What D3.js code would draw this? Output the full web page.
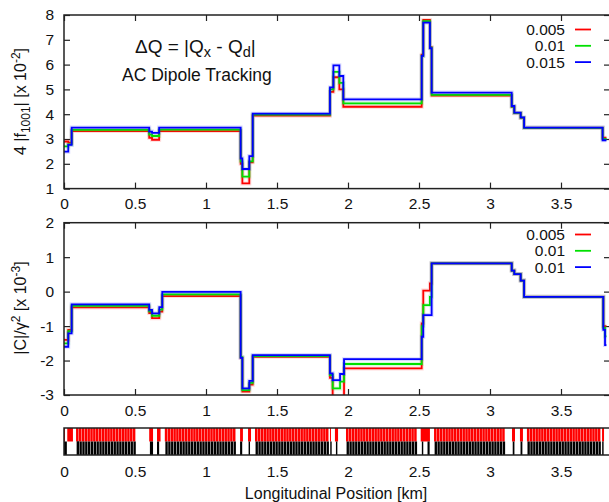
<!DOCTYPE html>
<html>
<head>
<meta charset="utf-8">
<script src="https://cdn.jsdelivr.net/npm/d3@7"></script>
<style>
  body { margin: 0; background: #fff; }
  svg { font-family: "Liberation Sans", Arial, Helvetica, sans-serif; }
</style>
</head>
<body>
<svg id="chart" width="609" height="502"></svg>
<script>
// legend labels and colours (red drawn first, blue on top)
const upperLabels = ["0.005", "0.01", "0.015"]
const lowerLabels = ["0.005", "0.01", "0.01"]
const seriesColors = ["#ff0000", "#00e000", "#0000ff"]

// upper panel: 4|f1001| [x 10^-2], step values starting at each position (km)
const upperPos = [0, 0.03, 0.054, 0.60, 0.62, 0.67, 1.244, 1.256, 1.305, 1.329, 1.873, 1.897,
  1.939, 1.967, 2.519, 2.53, 2.577, 2.589, 3.153, 3.171, 3.216, 3.24, 3.793, 3.82]
const upperRed = [2.90, 2.85, 3.32, 3.05, 2.97, 3.32, 2.00, 1.21, 2.06, 3.94, 4.90, 5.49,
  5.00, 4.30, 6.40, 7.80, 6.70, 4.75, 4.30, 4.04, 3.85, 3.45, 3.05, 3.05]
const upperGreen = [2.70, 2.78, 3.37, 3.18, 3.12, 3.38, 2.10, 1.48, 2.10, 3.98, 5.00, 5.71,
  5.26, 4.44, 6.35, 7.75, 6.68, 4.78, 4.31, 4.05, 3.86, 3.45, 3.00, 3.00]
const upperBlue = [2.49, 2.76, 3.46, 3.30, 3.25, 3.46, 2.22, 1.79, 2.31, 4.02, 5.08, 5.97,
  5.54, 4.60, 6.35, 7.69, 6.66, 4.87, 4.33, 4.06, 3.87, 3.46, 2.95, 2.95]

// lower panel: |C|/gamma^2 [x 10^-3]
const lowerPos = [0, 0.03, 0.054, 0.60, 0.62, 0.671, 0.692, 1.244, 1.256, 1.305, 1.329, 1.873,
  1.892, 1.944, 1.972, 2.519, 2.53, 2.577, 2.589, 3.153, 3.171, 3.216, 3.24, 3.798, 3.81, 3.82]
const lowerRed = [-1.40, -1.11, -0.46, -0.62, -0.77, -0.58, -0.13, -1.92, -2.90, -2.70, -1.89, -2.50,
  -3.20, -3.20, -2.23, -0.92, 0.03, 0.24, 0.82, 0.61, 0.51, 0.32, -0.15, -1.00, -1.00, -1.00]
const lowerGreen = [-1.50, -1.15, -0.41, -0.57, -0.70, -0.52, -0.08, -1.90, -2.86, -2.65, -1.87, -2.42,
  -2.81, -2.61, -2.10, -1.00, -0.39, -0.15, 0.82, 0.61, 0.51, 0.32, -0.15, -1.05, -1.30, -1.30]
const lowerBlue = [-1.60, -1.21, -0.37, -0.53, -0.63, -0.45, -0.01, -1.92, -2.81, -2.59, -1.84, -2.37,
  -2.57, -2.39, -1.96, -1.31, -0.68, -0.68, 0.82, 0.61, 0.51, 0.32, -0.15, -1.11, -1.55, -1.55]

// tick values
const xTicks = [0, 0.5, 1, 1.5, 2, 2.5, 3, 3.5]
const upperYTicks = [1, 2, 3, 4, 5, 6, 7, 8]
const lowerYTicks = [-3, -2, -1, 0, 1, 2]

// lattice strip: arc regions (dense magnets, km), cell length, and isolated IR magnets
const arcRegions = [[0.085, 0.50], [0.71, 1.22], [1.345, 1.873], [1.986, 2.486], [2.606, 3.107], [3.26, 3.775]]
const cellLength = 0.02
const irDipoles = [[0, 0.007], [0.023, 0.063], [0.60, 0.627], [0.655, 0.68], [1.24, 1.26], [1.296, 1.317],
  [1.873, 1.88], [1.908, 1.93], [2.512, 2.577], [3.155, 3.176], [3.211, 3.232], [3.789, 3.803]]
const irQuads = [[0, 0.02], [0.092, 0.106], [0.605, 0.627], [0.655, 0.67], [1.24, 1.255], [1.30, 1.31],
  [1.875, 1.885], [1.915, 1.925], [2.52, 2.53], [2.56, 2.575], [3.16, 3.172], [3.215, 3.228], [3.79, 3.80]]

const svg = d3.select("#chart")
const left = 64, right = 610
const x = d3.scaleLinear().domain([0, (right - left) / 142]).range([left, right])
const tickFont = 15.5

function panel(top, bottom, yDomain, yTicks, pos, series, labels, legendY, id) {
  const y = d3.scaleLinear().domain(yDomain).range([bottom, top])

  svg.append("clipPath").attr("id", id)
    .append("rect").attr("x", left).attr("y", top).attr("width", right - left).attr("height", bottom - top)

  const g = svg.append("g")

  // ticks pointing inward on all four sides
  g.append("g").attr("transform", `translate(0,${bottom})`)
    .call(d3.axisBottom(x).tickValues(xTicks).tickSize(-6).tickPadding(9.5).tickFormat(d => String(d)))
  g.append("g").attr("transform", `translate(0,${top})`)
    .call(d3.axisTop(x).tickValues(xTicks).tickSize(-6).tickFormat(""))
  g.append("g").attr("transform", `translate(${left},0)`)
    .call(d3.axisLeft(y).tickValues(yTicks).tickSize(-6).tickPadding(10).tickFormat(d => String(d)))
  g.append("g").attr("transform", `translate(${right},0)`)
    .call(d3.axisRight(y).tickValues(yTicks).tickSize(-6).tickFormat(""))
  g.selectAll(".domain").remove()
  g.selectAll(".tick line").attr("stroke", "#222").attr("stroke-width", 1.2)
  g.selectAll(".tick text").attr("font-size", tickFont).attr("fill", "#111")

  const line = d3.line()
    .x(d => x(d[0]))
    .y(d => y(d[1]))
    .curve(d3.curveStepAfter)

  const lines = svg.append("g").attr("clip-path", `url(#${id})`)
  series.forEach((vals, i) => {
    const pts = pos.map((p, j) => [p, vals[j]])
    lines.append("path").attr("d", line(pts))
      .attr("fill", "none").attr("stroke", seriesColors[i])
      .attr("stroke-width", 4).attr("stroke-opacity", 0.15)
    lines.append("path").attr("d", line(pts))
      .attr("fill", "none").attr("stroke", seriesColors[i])
      .attr("stroke-width", 1.8)
  })

  svg.append("rect")
    .attr("x", left).attr("y", top).attr("width", right - left).attr("height", bottom - top)
    .attr("fill", "none").attr("stroke", "#222").attr("stroke-width", 1.5)

  // legend
  labels.forEach((lab, i) => {
    const ly = legendY + i * 16.3
    svg.append("text").attr("x", 565).attr("y", ly)
      .attr("text-anchor", "end").attr("font-size", tickFont).attr("fill", "#111").text(lab)
    svg.append("line").attr("x1", 575).attr("x2", 591)
      .attr("y1", ly - 5.5).attr("y2", ly - 5.5)
      .attr("stroke", seriesColors[i]).attr("stroke-width", 1.8)
  })
}

panel(15, 188.6, [1, 8], upperYTicks, upperPos, [upperRed, upperGreen, upperBlue], upperLabels, 35, "clipUpper")
panel(222.7, 395, [-3, 2], lowerYTicks, lowerPos, [lowerRed, lowerGreen, lowerBlue], lowerLabels, 240, "clipLower")

// lattice strip
const latTop = 428, latMid = 441.5, latBottom = 455
const lat = svg.append("g")
const dipoles = irDipoles.slice(), quads = irQuads.slice()
arcRegions.forEach(([a, b]) => {
  for (let s = a; s + 0.012 <= b; s += cellLength) {
    dipoles.push([s, s + 0.0175])
    quads.push([s + 0.004, s + 0.0205])
  }
})
lat.selectAll("rect.dip").data(dipoles).join("rect").attr("class", "dip")
  .attr("x", d => x(d[0])).attr("width", d => Math.max(0.6, x(d[1]) - x(d[0])))
  .attr("y", latTop).attr("height", latMid - latTop).attr("fill", "#ff0000")
lat.selectAll("rect.quad").data(quads).join("rect").attr("class", "quad")
  .attr("x", d => x(d[0])).attr("width", d => Math.max(0.6, x(d[1]) - x(d[0])))
  .attr("y", latMid).attr("height", latBottom - latMid).attr("fill", "#000")
svg.append("rect")
  .attr("x", left).attr("y", latTop).attr("width", right - left).attr("height", latBottom - latTop)
  .attr("fill", "none").attr("stroke", "#222").attr("stroke-width", 1.5)
const latAxis = svg.append("g").attr("transform", `translate(0,${latBottom})`)
  .call(d3.axisBottom(x).tickValues(xTicks).tickSize(0).tickPadding(10.5).tickFormat(d => String(d)))
latAxis.select(".domain").remove()
latAxis.selectAll(".tick text").attr("font-size", tickFont).attr("fill", "#111")

// axis titles
const yt1 = svg.append("text").attr("transform", "translate(26,101.5) rotate(-90)")
  .attr("text-anchor", "middle").attr("font-size", 16).attr("fill", "#111")
yt1.append("tspan").text("4 |f")
yt1.append("tspan").attr("font-size", 12).attr("dy", 4).text("1001")
yt1.append("tspan").attr("dy", -4).text("| [x 10")
yt1.append("tspan").attr("font-size", 12).attr("dy", -6).text("-2")
yt1.append("tspan").attr("dy", 6).text("]")

const yt2 = svg.append("text").attr("transform", "translate(26,308) rotate(-90)")
  .attr("text-anchor", "middle").attr("font-size", 16).attr("fill", "#111")
yt2.append("tspan").text("|C|/\u03b3")
yt2.append("tspan").attr("font-size", 12).attr("dy", -6).text("2")
yt2.append("tspan").attr("dy", 6).text(" [x 10")
yt2.append("tspan").attr("font-size", 12).attr("dy", -6).text("-3")
yt2.append("tspan").attr("dy", 6).text("]")

svg.append("text").attr("x", 336).attr("y", 499).attr("text-anchor", "middle")
  .attr("font-size", 16).attr("fill", "#111").text("Longitudinal Position [km]")

// annotation
const ann = svg.append("text").attr("x", 135).attr("y", 53).attr("font-size", 19).attr("fill", "#111")
ann.append("tspan").text("\u0394Q = |Q")
ann.append("tspan").attr("font-size", 14.5).attr("dy", 4).text("x")
ann.append("tspan").attr("dy", -4).text(" - Q")
ann.append("tspan").attr("font-size", 14.5).attr("dy", 4).text("d")
ann.append("tspan").attr("dy", -4).text("|")
svg.append("text").attr("x", 122).attr("y", 81).attr("font-size", 17.5).attr("fill", "#111")
  .text("AC Dipole Tracking")
</script>
</body>
</html>
